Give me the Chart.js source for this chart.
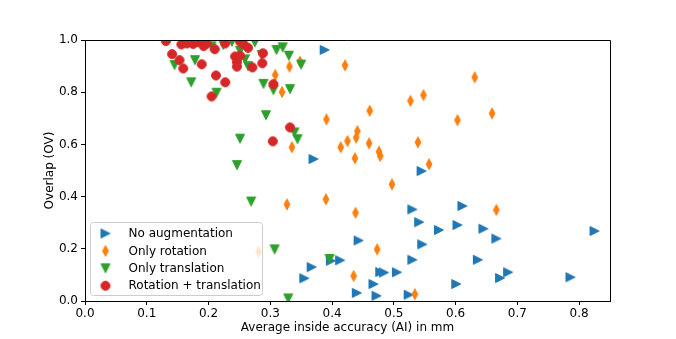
<!DOCTYPE html>
<html>
<head>
<meta charset="utf-8">
<script src="https://cdn.jsdelivr.net/npm/chart.js@4.4.1/dist/chart.umd.min.js"></script>
<style>
  html, body { margin: 0; padding: 0; background: #fff; }
  #wrap { width: 676px; height: 339px; }
</style>
</head>
<body>
<div id="wrap"><canvas id="myChart" width="676" height="339"></canvas></div>
<script>
// values
const noAugX = [0.388, 0.370, 0.545, 0.530, 0.541, 0.573, 0.603, 0.443, 0.546, 0.530, 0.367, 0.413, 0.398, 0.355, 0.478,
                0.484, 0.505, 0.467, 0.440, 0.472, 0.524, 0.601, 0.611, 0.645, 0.666, 0.825, 0.636, 0.685, 0.672, 0.786];
const noAugY = [0.962, 0.544, 0.498, 0.351, 0.302, 0.272, 0.291, 0.232, 0.217, 0.158, 0.130, 0.156, 0.154, 0.087, 0.111,
                0.109, 0.110, 0.065, 0.031, 0.020, 0.024, 0.065, 0.364, 0.277, 0.239, 0.268, 0.158, 0.110, 0.088, 0.091];

const rotX = [0.631, 0.659, 0.603, 0.421, 0.331, 0.348, 0.308, 0.319, 0.527, 0.548, 0.461, 0.391, 0.441, 0.439, 0.425, 0.414,
              0.460, 0.539, 0.476, 0.478, 0.437, 0.335, 0.557, 0.497, 0.327, 0.390, 0.438, 0.473, 0.435, 0.534, 0.666, 0.281];
const rotY = [0.857, 0.719, 0.693, 0.903, 0.898, 0.917, 0.866, 0.801, 0.767, 0.789, 0.729, 0.696, 0.651, 0.626, 0.613, 0.589,
              0.604, 0.608, 0.572, 0.556, 0.547, 0.589, 0.524, 0.447, 0.370, 0.390, 0.338, 0.198, 0.096, 0.026, 0.349, 0.189];

const transX = [0.145, 0.178, 0.172, 0.213, 0.289, 0.305, 0.332, 0.293, 0.251, 0.246, 0.339, 0.344, 0.269, 0.307,
                0.329, 0.396, 0.310, 0.320, 0.330, 0.350, 0.259, 0.251, 0.275, 0.238, 0.264, 0.205, 0.224, 0.286];
const transY = [0.904, 0.923, 0.838, 0.798, 0.832, 0.808, 0.812, 0.712, 0.622, 0.521, 0.646, 0.620, 0.381, 0.198,
                0.010, 0.161, 0.962, 0.972, 0.940, 0.906, 0.926, 0.959, 0.991, 0.994, 0.900, 0.976, 0.981, 0.943];

const bothX = [0.131, 0.141, 0.153, 0.159, 0.156, 0.165, 0.175, 0.189, 0.192, 0.197, 0.210, 0.212, 0.227, 0.205, 0.227,
               0.243, 0.246, 0.251, 0.246, 0.257, 0.264, 0.271, 0.288, 0.287, 0.305, 0.304, 0.332, 0.251, 0.182];
const bothY = [0.996, 0.946, 0.923, 0.891, 0.983, 0.987, 0.985, 0.907, 0.977, 0.987, 0.965, 0.864, 0.838, 0.784, 0.987,
               0.937, 0.915, 0.940, 0.898, 0.983, 0.970, 0.895, 0.949, 0.911, 0.831, 0.612, 0.665, 0.994, 0.992];

const seriesNames = ['No augmentation', 'Only rotation', 'Only translation', 'Rotation + translation'];
const xTicks = [0, 0.1, 0.2, 0.3, 0.4, 0.5, 0.6, 0.7, 0.8];

function pairs(xs, ys) {
    return xs.map((x, i) => ({x: x, y: ys[i]}));
}

// marker images (matplotlib style: >, d, v, o)
function marker(shape, color) {
    const c = document.createElement('canvas');
    c.width = 14; c.height = 14;
    const g = c.getContext('2d');
    g.fillStyle = color;
    g.strokeStyle = color;
    g.lineWidth = 1;
    g.beginPath();
    if (shape === 'right') {
        g.moveTo(2.5, 2.5); g.lineTo(11.5, 7); g.lineTo(2.5, 11.5);
    } else if (shape === 'down') {
        g.moveTo(2.5, 2.6); g.lineTo(11.5, 2.6); g.lineTo(7, 11.5);
    } else if (shape === 'thin') {
        g.moveTo(7, 1.6); g.lineTo(9.9, 7); g.lineTo(7, 12.4); g.lineTo(4.1, 7);
    } else {
        g.arc(7, 7, 4.5, 0, Math.PI * 2);
    }
    g.closePath();
    g.fill();
    g.stroke();
    return c;
}

const blue = '#1f77b4', orange = '#ff7f0e', green = '#2ca02c', red = '#d62728';
const markers = [marker('right', blue), marker('thin', orange), marker('down', green), marker('circle', red)];

// matplotlib-like legend box, drawn on top of the points
const boxLegend = {
    id: 'boxLegend',
    afterDatasetsDraw(chart) {
        const ctx = chart.ctx;
        const a = chart.chartArea;
        const x0 = a.left + 5.5, y0 = a.bottom - 78.5, w = 172, h = 73;
        ctx.save();
        ctx.beginPath();
        ctx.roundRect(x0, y0, w, h, 3);
        ctx.fillStyle = 'rgba(255,255,255,0.8)';
        ctx.fill();
        ctx.strokeStyle = '#cccccc';
        ctx.lineWidth = 1;
        ctx.stroke();
        ctx.font = '12px "DejaVu Sans"';
        ctx.fillStyle = '#000';
        ctx.textBaseline = 'middle';
        chart.data.datasets.forEach((ds, i) => {
            const cy = y0 + 11 + i * 17.4;
            ctx.drawImage(markers[i], x0 + 15 - 7, cy - 7);
            ctx.fillText(ds.label, x0 + 38, cy + 0.5);
        });
        ctx.restore();
    },
    afterDraw(chart) {
        // top and right spines
        const ctx = chart.ctx;
        const a = chart.chartArea;
        ctx.save();
        ctx.strokeStyle = '#000';
        ctx.lineWidth = 1;
        ctx.beginPath();
        ctx.moveTo(a.left, a.top + 0.5);
        ctx.lineTo(a.right + 0.5, a.top + 0.5);
        ctx.lineTo(a.right + 0.5, a.bottom);
        ctx.stroke();
        ctx.restore();
    }
};

Chart.defaults.font.family = '"DejaVu Sans", sans-serif';
Chart.defaults.font.size = 12;
Chart.defaults.color = '#000';

const ctx = document.getElementById('myChart');

var chart = new Chart(ctx, {
    type: 'scatter',
    data: {
        datasets: [
            {label: seriesNames[0], data: pairs(noAugX, noAugY), pointStyle: markers[0], order: 3, clip: 0},
            {label: seriesNames[1], data: pairs(rotX, rotY), pointStyle: markers[1], order: 2, clip: 0},
            {label: seriesNames[2], data: pairs(transX, transY), pointStyle: markers[2], order: 1, clip: 0},
            {label: seriesNames[3], data: pairs(bothX, bothY), pointStyle: markers[3], order: 0, clip: 0}
        ]
    },
    options: {
        responsive: false,
        animation: false,
        layout: {padding: {left: 43, right: 66, top: 40, bottom: 4}},
        plugins: {
            legend: {display: false},
            tooltip: {enabled: false}
        },
        scales: {
            x: {
                type: 'linear',
                min: 0,
                max: 0.85,
                afterBuildTicks: s => { s.ticks = xTicks.map(v => ({value: v})); },
                afterFit: s => { s.height = 34; },
                ticks: {padding: 2, callback: v => v.toFixed(1)},
                grid: {drawOnChartArea: false, drawTicks: true, tickLength: 4, color: '#000'},
                border: {color: '#000', width: 1},
                title: {display: true, text: 'Average inside accuracy (AI) in mm', padding: {top: 0, bottom: 0}}
            },
            y: {
                type: 'linear',
                min: 0,
                max: 1,
                afterFit: s => { s.width = 42; },
                ticks: {stepSize: 0.2, padding: 3, callback: v => v.toFixed(1)},
                grid: {drawOnChartArea: false, drawTicks: true, tickLength: 4, color: '#000'},
                border: {color: '#000', width: 1},
                title: {display: true, text: 'Overlap (OV)', padding: {top: 0, bottom: 0}}
            }
        }
    },
    plugins: [boxLegend]
});
</script>
</body>
</html>
